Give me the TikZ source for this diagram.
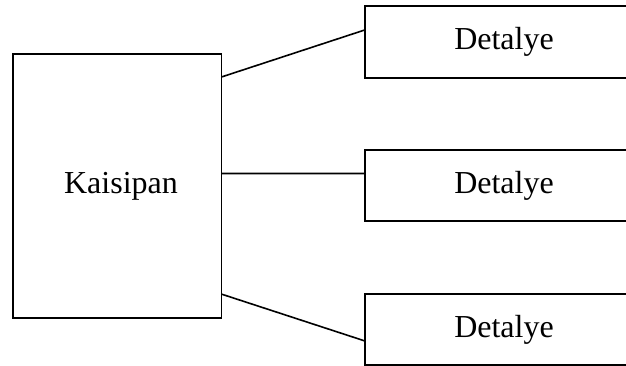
\documentclass[tikz,border=0pt]{standalone}
\usepackage{fontspec}
\setmainfont{Liberation Serif}
\begin{document}
\begin{tikzpicture}[x=1pt,y=-1pt,
  box/.style={draw=black,line width=1.6pt,inner sep=0pt,outer sep=0pt,font=\fontsize{32}{37}\selectfont},
  link/.style={draw=black,line width=1.6pt}]
\useasboundingbox (0,0) rectangle (626,366);
\clip (0,0) rectangle (626,366);
\node[box,minimum width=208.6pt,minimum height=263.7pt] (L) at (117,185.9) {\hspace{8pt}Kaisipan};
\node[box,minimum width=278pt,minimum height=72.3pt] (T) at (504,41.9) {\raisebox{2pt}{Detalye}};
\node[box,minimum width=278pt,minimum height=71pt] (M) at (504,185.5) {\raisebox{2pt}{Detalye}};
\node[box,minimum width=278pt,minimum height=71pt] (B) at (504,329.5) {\raisebox{2pt}{Detalye}};
\draw[link] ([yshift=-23pt]L.north east) -- ([yshift=12pt]T.west);
\draw[link] ([yshift=-119.5pt]L.north east) -- ([yshift=12pt]M.west);
\draw[link] ([yshift=23.7pt]L.south east) -- ([yshift=-11.5pt]B.west);
\end{tikzpicture}
\end{document}
